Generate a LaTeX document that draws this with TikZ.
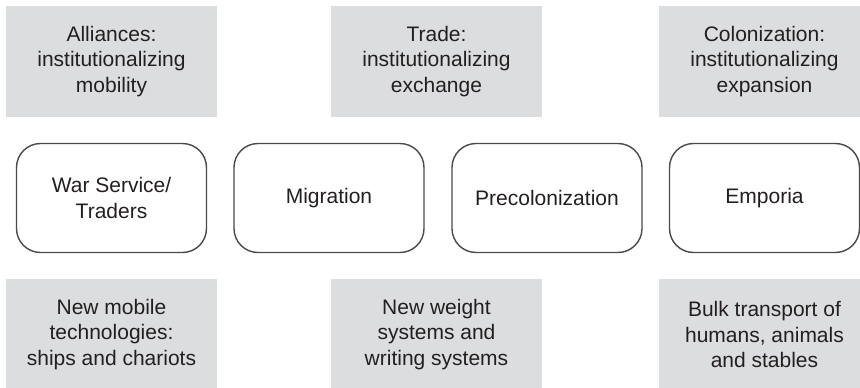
\documentclass[tikz,border=0pt]{standalone}
\usepackage{fontspec}
\setmainfont{Liberation Sans}
\definecolor{panelgray}{HTML}{DCDDDF}
\definecolor{edgegray}{HTML}{4A4A4A}
\definecolor{inkcol}{HTML}{231F20}
\begin{document}
\begin{tikzpicture}[x=1pt,y=-1pt,
  every node/.style={font=\fontsize{21}{25.5}\selectfont, text=inkcol, align=center, inner sep=0pt},
  panel/.style={fill=panelgray, draw=none, minimum width=211pt, minimum height=111pt},
  phase/.style={draw=edgegray, line width=1.4pt, fill=white, rounded corners=24pt,
                minimum width=190pt, minimum height=109pt}]
\useasboundingbox (0,0) rectangle (860,388);
\clip (0,0) rectangle (860,388);
% institutional frames
\node[panel] (alliances) at (111.5,61.5) {Alliances:\\institutionalizing\\mobility};
\node[panel] (trade) at (436.5,61.5) {Trade:\\institutionalizing\\exchange};
\node[panel] (colon) at (764.5,61.5) {Colonization:\\institutionalizing\\expansion};
% phases of mobility
\node[phase] (war) at (111.5,198) {War Service/\\Traders};
\node[phase] (migr) at (329,198) {Migration};
\node[phase] (precol) at (547,198) {Precolonization};
\node[phase] (empor) at (764.5,198) {Emporia};
% enabling technologies
\node[panel] (mobtech) at (111.5,334.5) {New mobile\\technologies:\\ships and chariots};
\node[panel] (weights) at (436.5,334.5) {New weight\\systems and\\writing systems};
\node[panel] (bulk) at (764.5,334.5) {Bulk transport of\\humans, animals\\and stables};
\end{tikzpicture}
\end{document}
